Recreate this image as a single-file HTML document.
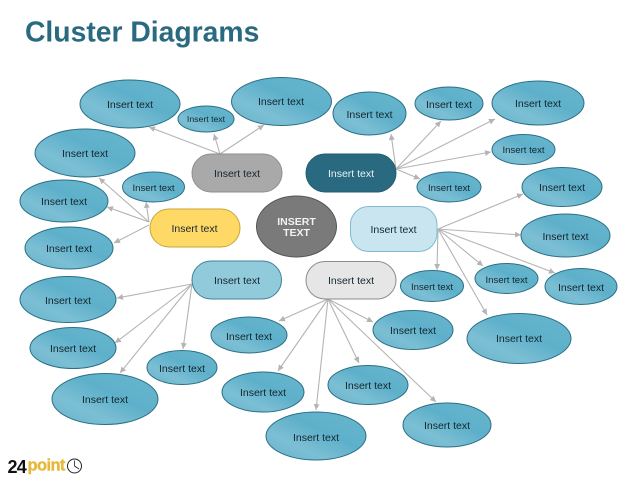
<!DOCTYPE html>
<html>
<head>
<meta charset="utf-8">
<style>
html,body{margin:0;padding:0;background:#fff;}
svg{display:block;}
text{font-family:"Liberation Sans",sans-serif;}
.t{fill:#14262e;text-anchor:middle;font-size:10.5px;}
.e{fill:url(#g);stroke:#2b6f86;stroke-width:1;}
.c{stroke:#b4b4b4;stroke-width:1.1;fill:none;marker-end:url(#a);}
</style>
</head>
<body>
<svg width="638" height="479" viewBox="0 0 638 479" xmlns="http://www.w3.org/2000/svg">
<defs>
<linearGradient id="g" x1="0" y1="1" x2="1" y2="0">
<stop offset="0" stop-color="#64b3cb"/>
<stop offset="0.3" stop-color="#7cbfd4"/>
<stop offset="0.58" stop-color="#5eb0ca"/>
<stop offset="1" stop-color="#68b6ce"/>
</linearGradient>
<marker id="a" markerWidth="8" markerHeight="8" refX="6" refY="3" orient="auto" markerUnits="userSpaceOnUse">
<path d="M0,0 L6,3 L0,6 Z" fill="#b4b4b4"/>
</marker>
</defs>
<rect width="638" height="479" fill="#fff"/>
<text x="25" y="41.5" font-size="28.3" font-weight="bold" fill="#2a6a80">Cluster Diagrams</text>

<g>
<line class="c" x1="220" y1="154" x2="149" y2="127"/>
<line class="c" x1="220" y1="154" x2="214" y2="134"/>
<line class="c" x1="220" y1="154" x2="264" y2="125"/>
<line class="c" x1="149" y1="222" x2="99" y2="178"/>
<line class="c" x1="149" y1="222" x2="107" y2="207"/>
<line class="c" x1="149" y1="222" x2="146" y2="202"/>
<line class="c" x1="149" y1="225" x2="114" y2="243"/>
<line class="c" x1="396" y1="169" x2="391" y2="134"/>
<line class="c" x1="396" y1="169" x2="441" y2="121"/>
<line class="c" x1="396" y1="169" x2="495" y2="119"/>
<line class="c" x1="396" y1="169" x2="491" y2="152"/>
<line class="c" x1="396" y1="169" x2="420" y2="179"/>
<line class="c" x1="438" y1="229" x2="523" y2="194"/>
<line class="c" x1="438" y1="229" x2="521" y2="235"/>
<line class="c" x1="438" y1="229" x2="483" y2="266"/>
<line class="c" x1="438" y1="229" x2="555" y2="273"/>
<line class="c" x1="438" y1="229" x2="437" y2="270"/>
<line class="c" x1="438" y1="229" x2="487" y2="315"/>
<line class="c" x1="192" y1="284" x2="117" y2="298"/>
<line class="c" x1="192" y1="284" x2="115" y2="343"/>
<line class="c" x1="192" y1="284" x2="120" y2="373"/>
<line class="c" x1="192" y1="284" x2="183" y2="349"/>
<line class="c" x1="328" y1="299" x2="279" y2="321"/>
<line class="c" x1="328" y1="299" x2="278" y2="371"/>
<line class="c" x1="328" y1="299" x2="316" y2="410"/>
<line class="c" x1="328" y1="299" x2="359" y2="363"/>
<line class="c" x1="328" y1="299" x2="373" y2="322"/>
<line class="c" x1="328" y1="299" x2="436" y2="402"/>
</g>

<g>
<ellipse class="e" cx="130" cy="104" rx="50" ry="24"/>
<ellipse class="e" cx="206" cy="119" rx="28" ry="13"/>
<ellipse class="e" cx="281.5" cy="101.5" rx="50" ry="24"/>
<ellipse class="e" cx="85" cy="153" rx="50" ry="24"/>
<ellipse class="e" cx="153.5" cy="187" rx="31" ry="15"/>
<ellipse class="e" cx="64" cy="201" rx="44" ry="21"/>
<ellipse class="e" cx="69" cy="248" rx="44" ry="21"/>
<ellipse class="e" cx="68" cy="299.5" rx="48" ry="23"/>
<ellipse class="e" cx="73" cy="348" rx="43" ry="20.5"/>
<ellipse class="e" cx="105" cy="399" rx="53" ry="25.5"/>
<ellipse class="e" cx="182" cy="367.5" rx="35" ry="17"/>
<ellipse class="e" cx="249" cy="335" rx="38" ry="18"/>
<ellipse class="e" cx="263" cy="392" rx="41" ry="20"/>
<ellipse class="e" cx="316" cy="436" rx="50" ry="24"/>
<ellipse class="e" cx="368" cy="385" rx="40" ry="19.5"/>
<ellipse class="e" cx="447" cy="425" rx="44" ry="22"/>
<ellipse class="e" cx="413" cy="330" rx="40" ry="19.5"/>
<ellipse class="e" cx="519" cy="338.5" rx="52" ry="25"/>
<ellipse class="e" cx="432" cy="286" rx="31.5" ry="15.5"/>
<ellipse class="e" cx="506.5" cy="278.5" rx="31.5" ry="15"/>
<ellipse class="e" cx="581" cy="286.5" rx="36" ry="18"/>
<ellipse class="e" cx="565.5" cy="235.5" rx="44.5" ry="21.5"/>
<ellipse class="e" cx="562" cy="187" rx="40" ry="19.5"/>
<ellipse class="e" cx="449" cy="187" rx="32" ry="15"/>
<ellipse class="e" cx="523.5" cy="149.5" rx="31.5" ry="15"/>
<ellipse class="e" cx="538" cy="103" rx="46" ry="22"/>
<ellipse class="e" cx="449" cy="103.5" rx="34" ry="16.5"/>
<ellipse class="e" cx="369.5" cy="113.5" rx="36.5" ry="21.5"/>
</g>

<g>
<rect x="192" y="154" width="90" height="38" rx="19" fill="#a9a9a9" stroke="#8f8f8f"/>
<rect x="306" y="154" width="90" height="38" rx="19" fill="#2a6a80" stroke="#245c70"/>
<rect x="150" y="209" width="90" height="38" rx="19" fill="#ffd966" stroke="#c9a63a"/>
<rect x="350.5" y="206.5" width="86.5" height="45" rx="18" fill="#c8e5f0" stroke="#7fbcd0"/>
<rect x="192" y="261" width="89.5" height="38" rx="19" fill="#90cadb" stroke="#3f8198"/>
<rect x="306" y="261.5" width="90" height="37.5" rx="19" fill="#e6e6e6" stroke="#8c8c8c"/>
<ellipse cx="296.5" cy="226.5" rx="40" ry="30.5" fill="#7a7a7a" stroke="#555"/>
</g>

<g>
<text class="t" x="130" y="108">Insert text</text>
<text class="t" x="206" y="122" style="font-size:8.7px">Insert text</text>
<text class="t" x="281" y="105">Insert text</text>
<text class="t" x="85" y="157">Insert text</text>
<text class="t" x="153.5" y="191" style="font-size:9.6px">Insert text</text>
<text class="t" x="64" y="205">Insert text</text>
<text class="t" x="69" y="252">Insert text</text>
<text class="t" x="68" y="304">Insert text</text>
<text class="t" x="73" y="352">Insert text</text>
<text class="t" x="105" y="403">Insert text</text>
<text class="t" x="182" y="372">Insert text</text>
<text class="t" x="249" y="340">Insert text</text>
<text class="t" x="263" y="396">Insert text</text>
<text class="t" x="316" y="441">Insert text</text>
<text class="t" x="368" y="389">Insert text</text>
<text class="t" x="447" y="429">Insert text</text>
<text class="t" x="413" y="334">Insert text</text>
<text class="t" x="519" y="342">Insert text</text>
<text class="t" x="432" y="290" style="font-size:9.6px">Insert text</text>
<text class="t" x="506.5" y="283" style="font-size:9.6px">Insert text</text>
<text class="t" x="581" y="291">Insert text</text>
<text class="t" x="565.5" y="240">Insert text</text>
<text class="t" x="562" y="191">Insert text</text>
<text class="t" x="449" y="191" style="font-size:9.6px">Insert text</text>
<text class="t" x="523.5" y="153" style="font-size:9.6px">Insert text</text>
<text class="t" x="538" y="107">Insert text</text>
<text class="t" x="449" y="108">Insert text</text>
<text class="t" x="369.5" y="118">Insert text</text>

<text class="t" x="237" y="177">Insert text</text>
<text class="t" x="351" y="177" style="fill:#e8f2f5">Insert text</text>
<text class="t" x="194.5" y="232">Insert text</text>
<text class="t" x="393.5" y="233">Insert text</text>
<text class="t" x="237" y="284">Insert text</text>
<text class="t" x="351" y="284">Insert text</text>
<text x="296.5" y="225" text-anchor="middle" font-size="10.5" font-weight="bold" fill="#f2f2f2">INSERT</text>
<text x="296.5" y="236" text-anchor="middle" font-size="10.5" font-weight="bold" fill="#f2f2f2">TEXT</text>
</g>

<g>
<text x="7.5" y="473" font-size="18" font-weight="bold" fill="#111" letter-spacing="-0.8">24</text>
<text x="27.5" y="470.5" font-size="16.5" font-weight="bold" fill="#e6b93c" letter-spacing="-0.6" stroke="#e6b93c" stroke-width="0.4">point</text>
<circle cx="74.5" cy="466" r="7" fill="#fff" stroke="#222" stroke-width="1"/>
<path d="M74.5,460.5 L74.5,466 L79,469" fill="none" stroke="#222" stroke-width="0.8"/>
</g>
</svg>
</body>
</html>
